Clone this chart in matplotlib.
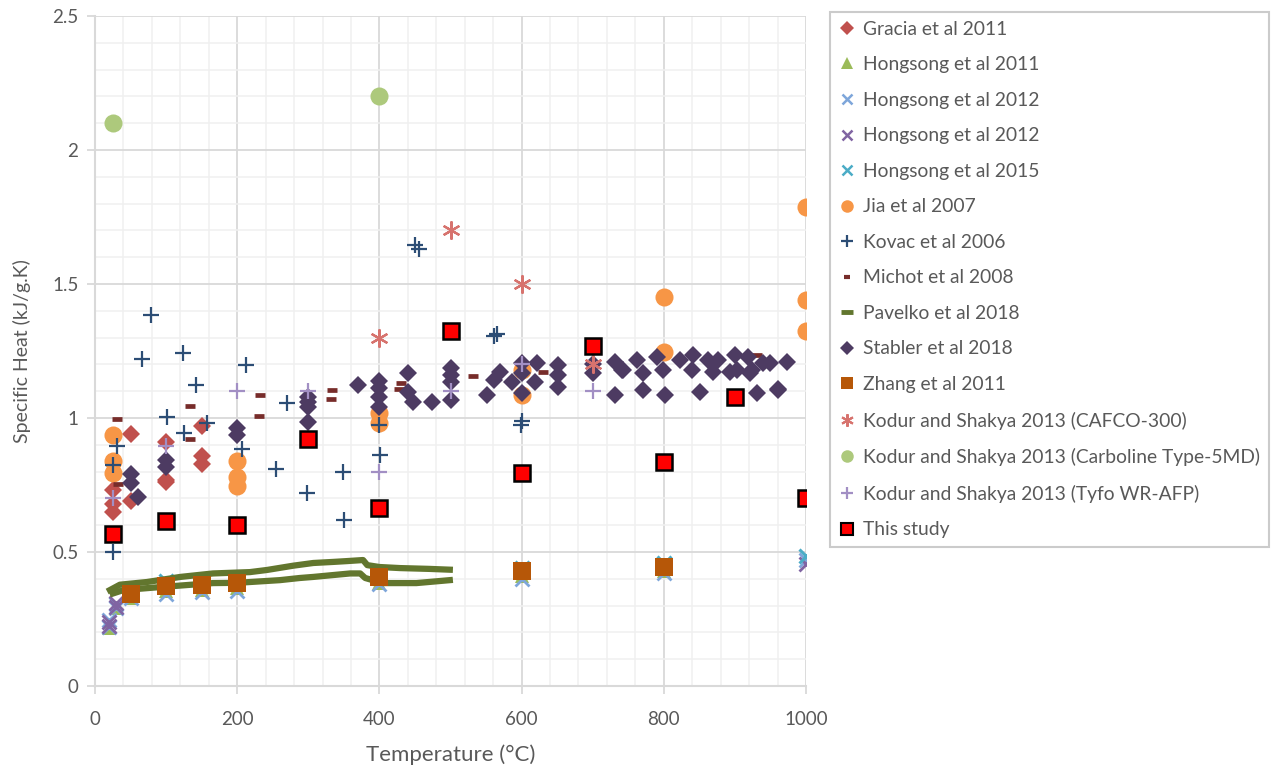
import matplotlib
matplotlib.use("Agg")
import matplotlib.pyplot as plt
from matplotlib.ticker import MultipleLocator, FuncFormatter
from matplotlib.lines import Line2D

plt.rcParams['font.family'] = ['Lato', 'DejaVu Sans']

# temperature (deg C) / specific heat (kJ/g.K) per source
gracia_t = [25, 25, 25, 50, 50, 100, 100, 100, 150, 150, 150]
gracia_cp = [0.73, 0.68, 0.65, 0.94, 0.69, 0.91, 0.77, 0.76, 0.97, 0.86, 0.83]

hong11_t = [20, 30, 50, 100, 150, 200, 400, 600, 800]
hong11_cp = [0.215, 0.29, 0.33, 0.355, 0.36, 0.365, 0.385, 0.41, 0.43]

hong12a_t = [20, 20, 30, 30, 50, 100, 150, 200, 400, 600, 800, 1000]
hong12a_cp = [0.22, 0.245, 0.29, 0.305, 0.33, 0.345, 0.35, 0.355, 0.38, 0.40, 0.42, 0.47]

hong12b_t = [20, 20, 30, 30, 1000]
hong12b_cp = [0.225, 0.24, 0.295, 0.31, 0.455]

hong15_t = [100, 200, 400, 600, 800, 1000]
hong15_cp = [0.39, 0.40, 0.415, 0.44, 0.46, 0.485]

jia_t = [25, 25, 25, 200, 200, 200, 400, 400, 600, 600, 800, 800, 1000, 1000, 1000]
jia_cp = [0.935, 0.84, 0.795, 0.84, 0.78, 0.745, 1.02, 0.98, 1.18, 1.085,
          1.45, 1.245, 1.787, 1.44, 1.325]

kovac_t = [25, 25, 31, 66, 79, 101, 124, 125, 142, 157, 213, 207, 255, 270,
           298, 349, 350, 401, 400, 450, 455, 561, 566, 599, 601]
kovac_cp = [0.50, 0.825, 0.895, 1.22, 1.385, 1.004, 1.243, 0.944, 1.123, 0.98,
            1.198, 0.885, 0.81, 1.056, 0.72, 0.80, 0.62, 0.862, 0.974, 1.645,
            1.63, 1.305, 1.315, 0.975, 0.99]

michot_t = [31, 32, 134, 134, 232, 231, 333, 332, 430, 428, 532, 630, 931]
michot_cp = [0.997, 0.755, 1.045, 0.92, 1.086, 1.007, 1.105, 1.07, 1.13, 1.108,
             1.157, 1.17, 1.235]

pav_upper_t = [21, 35, 73, 120, 166, 218, 242, 279, 307, 335, 354, 377, 383,
               400, 429, 470, 499]
pav_upper_cp = [0.358, 0.378, 0.388, 0.407, 0.42, 0.425, 0.433, 0.449, 0.459,
                0.463, 0.466, 0.47, 0.451, 0.444, 0.44, 0.437, 0.434]
pav_lower_t = [25, 40, 96, 166, 200, 260, 288, 307, 359, 373, 380, 405, 452, 499]
pav_lower_cp = [0.345, 0.358, 0.37, 0.384, 0.385, 0.395, 0.403, 0.407, 0.42,
                0.42, 0.403, 0.384, 0.384, 0.395]

stabler_t = [50, 50, 60, 100, 100, 200, 200, 300, 300, 300, 300, 370, 400, 400,
             400, 400, 440, 440, 447, 474, 500, 500, 500, 500, 551, 561, 570,
             586, 600, 600, 600, 621, 619, 651, 651, 651, 700, 700, 731, 731,
             741, 743, 762, 771, 771, 790, 799, 802, 823, 841, 840, 851, 862,
             869, 876, 893, 900, 903, 918, 921, 924, 931, 940, 949, 960, 961, 973]
stabler_cp = [0.79, 0.757, 0.706, 0.843, 0.817, 0.963, 0.937, 1.08, 1.06, 1.04,
              0.985, 1.123, 1.138, 1.112, 1.08, 1.04, 1.168, 1.097, 1.06, 1.06,
              1.186, 1.16, 1.135, 1.067, 1.086, 1.14, 1.17, 1.134, 1.205, 1.168,
              1.093, 1.205, 1.135, 1.198, 1.16, 1.116, 1.168, 1.2, 1.21, 1.086,
              1.18, 1.18, 1.216, 1.168, 1.104, 1.228, 1.18, 1.086, 1.216, 1.235,
              1.18, 1.097, 1.216, 1.172, 1.216, 1.17, 1.235, 1.18, 1.228, 1.168,
              1.18, 1.093, 1.205, 1.205, 1.104, 1.11, 1.209]

zhang_t = [50, 100, 150, 200, 400, 600, 800]
zhang_cp = [0.345, 0.372, 0.378, 0.385, 0.407, 0.43, 0.444]

cafco_t = [400, 500, 600, 700]
cafco_cp = [1.30, 1.70, 1.50, 1.20]

carbo_t = [25, 400]
carbo_cp = [2.10, 2.20]

tyfo_t = [25, 100, 200, 300, 400, 500, 600, 700]
tyfo_cp = [0.70, 0.895, 1.10, 1.10, 0.80, 1.10, 1.20, 1.10]

study_t = [25, 100, 200, 300, 400, 500, 600, 700, 800, 900, 1000]
study_cp = [0.567, 0.615, 0.60, 0.92, 0.665, 1.325, 0.795, 1.27, 0.835, 1.08, 0.70]

fig = plt.figure(figsize=(12.76, 7.70), dpi=100)
ax = fig.add_axes([95 / 1276, 1 - 686 / 770, 711 / 1276, 670 / 770])

pts = dict(linestyle='none')
ax.plot(gracia_t, gracia_cp, marker='D', ms=9, color='#C0504D', mew=0, **pts)
ax.plot(hong11_t, hong11_cp, marker='^', ms=10, color='#9BBB59', mew=0, **pts)
ax.plot(hong12a_t, hong12a_cp, marker='x', ms=10, color='#7EA6DA', mew=2, **pts)
ax.plot(hong12b_t, hong12b_cp, marker='x', ms=10, color='#8064A2', mew=2, **pts)
ax.plot(hong15_t, hong15_cp, marker='x', ms=10, color='#4BACC6', mew=2.2, **pts)
ax.plot(jia_t, jia_cp, marker='o', ms=13, color='#F79646', mew=0, **pts)
ax.plot(kovac_t, kovac_cp, marker='+', ms=12, color='#2C4D75', mew=1.6, **pts)
ax.plot(michot_t, michot_cp, marker='_', ms=7, color='#772C2A', mew=3.4, **pts)
ax.plot(pav_upper_t, pav_upper_cp, color='#62762E', lw=4.5)
ax.plot(pav_lower_t, pav_lower_cp, color='#62762E', lw=4.5)
ax.plot(stabler_t, stabler_cp, marker='D', ms=9, color='#4D3B62', mew=0, **pts)
ax.plot(zhang_t, zhang_cp, marker='s', ms=12.5, color='#B65708', mew=0, **pts)
ax.plot(cafco_t, cafco_cp, marker=(6, 2, 0), ms=13, color='#D7736E', mew=1.6, **pts)
ax.plot(carbo_t, carbo_cp, marker='o', ms=13, color='#ADC97C', mew=0, **pts)
ax.plot(tyfo_t, tyfo_cp, marker='+', ms=12, color='#A28FC4', mew=1.6, **pts)
ax.plot(study_t, study_cp, marker='s', ms=12, mfc='#FF0000', mec='black', mew=1.8, **pts)

ax.set_xlim(0, 1000)
ax.set_ylim(0, 2.5)
ax.xaxis.set_major_locator(MultipleLocator(200))
ax.xaxis.set_minor_locator(MultipleLocator(40))
ax.yaxis.set_major_locator(MultipleLocator(0.5))
ax.yaxis.set_minor_locator(MultipleLocator(0.1))
ax.yaxis.set_major_formatter(FuncFormatter(lambda v, p: f"{v:g}"))

ax.grid(which='major', color='#D9D9D9', lw=1.3, zorder=0)
ax.grid(which='minor', color='#F0F0F0', lw=1.1, zorder=0)
ax.set_axisbelow(True)
for side in ['top', 'right']:
    ax.spines[side].set_visible(False)
for side in ['left', 'bottom']:
    ax.spines[side].set_color('#D9D9D9')
    ax.spines[side].set_linewidth(1.5)
ax.tick_params(which='major', length=6, width=1.3, color='#D9D9D9',
               labelsize=13.5, labelcolor='#595959')
ax.tick_params(axis='x', which='major', pad=12)
ax.tick_params(axis='y', which='major', pad=6)
ax.tick_params(which='minor', length=0)

ax.set_xlabel('Temperature (°C)', fontsize=16, color='#595959', labelpad=12)
ax.set_ylabel('Specific Heat (kJ/g.K)', fontsize=14, color='#595959', labelpad=15)

handles = [
    Line2D([], [], ls='none', marker='D', ms=7, color='#C0504D', mew=0),
    Line2D([], [], ls='none', marker='^', ms=8, color='#9BBB59', mew=0),
    Line2D([], [], ls='none', marker='x', ms=7, color='#7EA6DA', mew=1.8),
    Line2D([], [], ls='none', marker='x', ms=7, color='#8064A2', mew=1.8),
    Line2D([], [], ls='none', marker='x', ms=7, color='#4BACC6', mew=1.8),
    Line2D([], [], ls='none', marker='o', ms=9, color='#F79646', mew=0),
    Line2D([], [], ls='none', marker='+', ms=8, color='#2C4D75', mew=1.6),
    Line2D([], [], ls='none', marker='_', ms=5, color='#772C2A', mew=3),
    Line2D([], [], ls='none', marker='_', ms=9, color='#62762E', mew=3.5),
    Line2D([], [], ls='none', marker='D', ms=7, color='#4D3B62', mew=0),
    Line2D([], [], ls='none', marker='s', ms=8, color='#B65708', mew=0),
    Line2D([], [], ls='none', marker=(6, 2, 0), ms=9, color='#D7736E', mew=1.5),
    Line2D([], [], ls='none', marker='o', ms=9, color='#ADC97C', mew=0),
    Line2D([], [], ls='none', marker='+', ms=8, color='#A28FC4', mew=1.6),
    Line2D([], [], ls='none', marker='s', ms=8, mfc='#FF0000', mec='black', mew=1.5),
]
labels = [
    'Gracia et al 2011', 'Hongsong et al 2011', 'Hongsong et al 2012',
    'Hongsong et al 2012', 'Hongsong et al 2015', 'Jia et al 2007',
    'Kovac et al 2006', 'Michot et al 2008', 'Pavelko et al 2018',
    'Stabler et al 2018', 'Zhang et al 2011', 'Kodur and Shakya 2013 (CAFCO-300)',
    'Kodur and Shakya 2013 (Carboline Type-5MD)',
    'Kodur and Shakya 2013 (Tyfo WR-AFP)', 'This study',
]
leg = fig.legend(handles, labels, loc='upper left',
                 bbox_to_anchor=(830 / 1276, 1 - 12 / 770),
                 frameon=True, fancybox=False, fontsize=13.9,
                 labelspacing=0.96, handlelength=0.9, handletextpad=0.35,
                 borderpad=0.45, borderaxespad=0)
leg.get_frame().set_edgecolor('#BFBFBF')
leg.get_frame().set_linewidth(1.5)
for t in leg.get_texts():
    t.set_color('#595959')

fig.savefig('out.png', dpi=100)
